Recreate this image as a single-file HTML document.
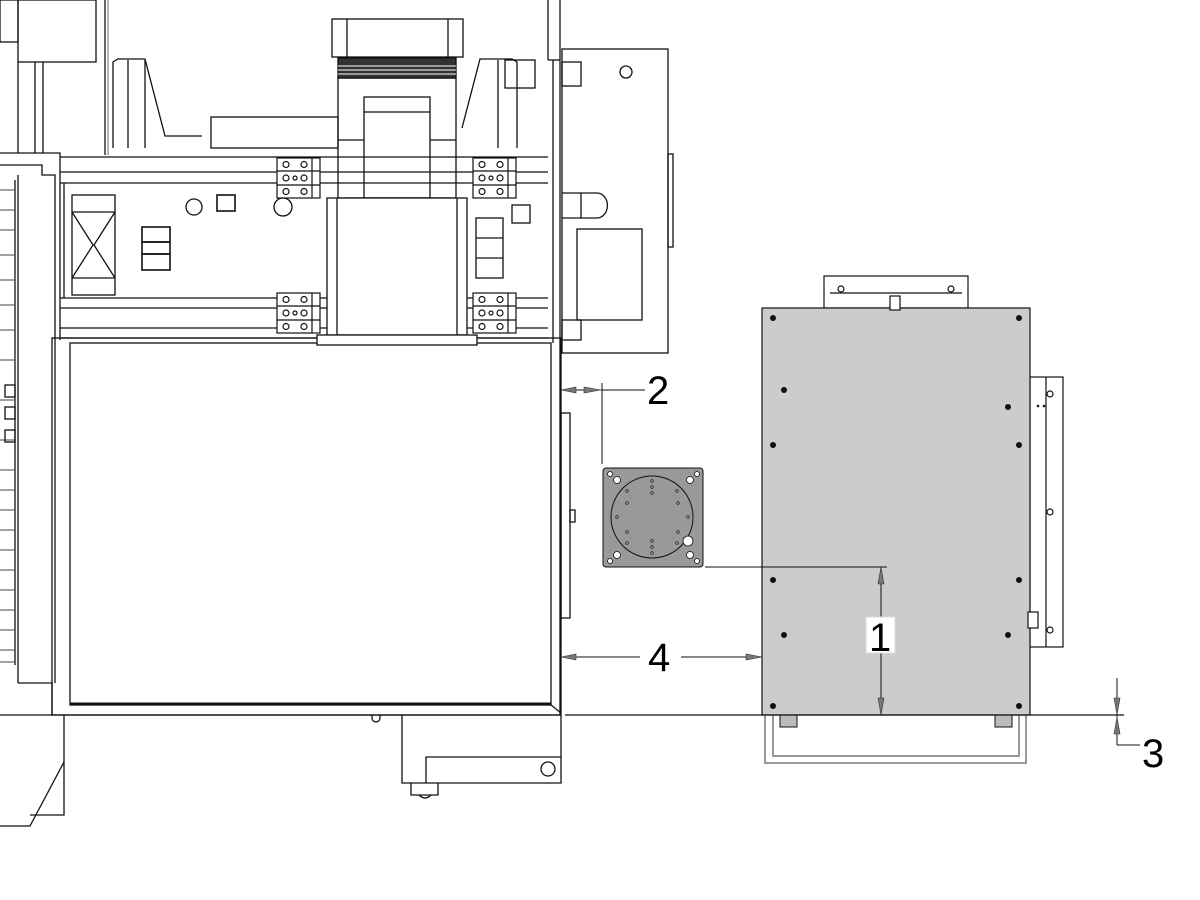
<!DOCTYPE html>
<html><head><meta charset="utf-8"><style>
html,body{margin:0;padding:0;background:#fff;}
svg{display:block;}
text{font-family:"Liberation Sans",sans-serif;}
</style></head><body>
<svg width="1200" height="900" viewBox="0 0 1200 900" xmlns="http://www.w3.org/2000/svg">
<defs>
<g id="brk" fill="none" stroke="#111" stroke-width="1.2">
  <rect x="0" y="0" width="43" height="40" fill="#fff"/>
  <line x1="0" y1="13" x2="43" y2="13"/><line x1="0" y1="27" x2="43" y2="27"/>
  <line x1="35" y1="0" x2="35" y2="40"/>
  <circle cx="9" cy="6.5" r="3"/><circle cx="27" cy="6.5" r="3"/>
  <circle cx="9" cy="20" r="3"/><circle cx="18" cy="20" r="2"/><circle cx="27" cy="20" r="3"/>
  <circle cx="9" cy="33.5" r="3"/><circle cx="27" cy="33.5" r="3"/>
</g>
</defs>
<g fill="none" stroke="#111" stroke-width="1.3">
<rect x="0" y="0" width="18" height="42"/>
<rect x="18" y="0" width="78" height="62"/>
<line x1="105" y1="0" x2="105" y2="155"/><line x1="108" y1="0" x2="108" y2="155" stroke="#888"/>
<line x1="18" y1="62" x2="18" y2="153"/><line x1="35" y1="62" x2="35" y2="153"/><line x1="43" y1="62" x2="43" y2="153"/>
<path d="M0 153 H60 V340"/>
<path d="M0 165 H42 V175 H55 V683"/>
<line x1="18" y1="175" x2="18" y2="683"/>
<line x1="15" y1="180" x2="15" y2="665"/>
<g stroke="#444" stroke-width="1">
<line x1="0" y1="190" x2="15" y2="190"/><line x1="0" y1="210" x2="15" y2="210"/><line x1="0" y1="230" x2="15" y2="230"/>
<line x1="0" y1="255" x2="15" y2="255"/><line x1="0" y1="280" x2="15" y2="280"/><line x1="0" y1="305" x2="15" y2="305"/>
<line x1="0" y1="330" x2="15" y2="330"/><line x1="0" y1="360" x2="15" y2="360"/><line x1="0" y1="400" x2="15" y2="400"/>
<line x1="0" y1="440" x2="15" y2="440"/><line x1="0" y1="470" x2="15" y2="470"/><line x1="0" y1="490" x2="15" y2="490"/>
<line x1="0" y1="510" x2="15" y2="510"/><line x1="0" y1="530" x2="15" y2="530"/><line x1="0" y1="550" x2="15" y2="550"/>
<line x1="0" y1="570" x2="15" y2="570"/><line x1="0" y1="590" x2="15" y2="590"/><line x1="0" y1="610" x2="15" y2="610"/>
<line x1="0" y1="630" x2="15" y2="630"/><line x1="0" y1="650" x2="15" y2="650"/><line x1="0" y1="662" x2="15" y2="662"/>
</g>
<rect x="5" y="385" width="10" height="12"/><rect x="5" y="407" width="10" height="12"/><rect x="5" y="430" width="10" height="12"/>
<path d="M18 683 H52 V715"/>
<path d="M0 715 H560"/>
<path d="M64 715 V815 H30"/>
<path d="M64 762 L30 826 H0"/>
<rect x="52" y="338" width="509" height="377"/>
<rect x="70" y="343" width="481" height="362"/>
<line x1="70" y1="704" x2="551" y2="704" stroke-width="3"/>
<line x1="551" y1="705" x2="561" y2="713"/>
<path d="M402 715 V783 H561 V715"/>
<path d="M426 783 V757 H561"/>
<circle cx="548" cy="769" r="7"/>
<path d="M411 783 V795 H438 V783"/><path d="M419 795 q6 6 12 0"/>
<path d="M372 715 v3 a4 4 0 0 0 8 0 v-3"/>
<line x1="548" y1="0" x2="548" y2="60"/><line x1="560" y1="0" x2="560" y2="715"/>
<line x1="553" y1="60" x2="553" y2="343"/>
<line x1="548" y1="60" x2="560" y2="60"/>
<rect x="561" y="413" width="9" height="205"/><rect x="570" y="510" width="5" height="12"/>
<rect x="562" y="49" width="106" height="304"/>
<circle cx="626" cy="72" r="6"/>
<rect x="577" y="229" width="65" height="91"/>
<rect x="668" y="154" width="5" height="93"/>
<path d="M562 193 H597 a10 12 0 0 1 0 25 H562"/><line x1="581" y1="193" x2="581" y2="218"/>
<rect x="562" y="62" width="19" height="24"/><rect x="562" y="320" width="19" height="20"/>
<line x1="60" y1="157" x2="548" y2="157"/><line x1="60" y1="172" x2="548" y2="172"/><line x1="60" y1="183" x2="548" y2="183"/>
<line x1="60" y1="298" x2="548" y2="298"/><line x1="60" y1="308" x2="548" y2="308"/><line x1="60" y1="328" x2="548" y2="328"/><line x1="60" y1="338" x2="548" y2="338"/>
<line x1="64" y1="183" x2="64" y2="298"/>
<rect x="72" y="195" width="43" height="100"/>
<path d="M72 212 L115 212 M72 278 L115 278 M72 212 L93 245 L72 278 M115 212 L94 245 L115 278"/>
<rect x="142" y="227" width="28" height="15" stroke-width="1.6"/><rect x="142" y="242" width="28" height="12" stroke-width="1.6"/><rect x="142" y="254" width="28" height="16" stroke-width="1.6"/>
<circle cx="194" cy="207" r="8"/><rect x="217" y="195" width="18" height="16" stroke-width="1.6"/><circle cx="283" cy="207" r="9"/>
<path d="M113 148 V62 L118 59 H145 L165 136 H202"/><line x1="128" y1="60" x2="128" y2="148"/><line x1="145" y1="60" x2="145" y2="148"/>
<rect x="211" y="117" width="127" height="31"/>
<path d="M517 148 V62 L512 59 H480 L462 128"/><line x1="498" y1="60" x2="498" y2="148"/>
<rect x="505" y="60" width="30" height="28"/>
<rect x="332" y="19" width="131" height="38" fill="#fff"/><line x1="347" y1="19" x2="347" y2="57"/><line x1="448" y1="19" x2="448" y2="57"/>
<rect x="338" y="58" width="118" height="20" fill="#333"/>
<g stroke="#fff" stroke-width="1"><line x1="338" y1="66" x2="456" y2="66"/><line x1="338" y1="70" x2="456" y2="70"/><line x1="338" y1="74" x2="456" y2="74"/></g>
<rect x="338" y="78" width="118" height="120"/>
<rect x="364" y="97" width="66" height="101"/><line x1="364" y1="112" x2="430" y2="112"/>
<line x1="338" y1="140" x2="364" y2="140"/><line x1="430" y1="140" x2="456" y2="140"/>
<rect x="327" y="198" width="140" height="137" fill="#fff"/>
<line x1="337" y1="198" x2="337" y2="335"/><line x1="457" y1="198" x2="457" y2="335"/>
<rect x="317" y="335" width="160" height="10" fill="#fff"/>
<rect x="476" y="218" width="27" height="60"/><line x1="476" y1="238" x2="503" y2="238"/><line x1="476" y1="258" x2="503" y2="258"/>
<rect x="512" y="205" width="18" height="18"/>
</g>
<use href="#brk" x="277" y="158"/><use href="#brk" x="277" y="293"/>
<use href="#brk" x="473" y="158"/><use href="#brk" x="473" y="293"/>
<g stroke="#111" stroke-width="1.2">
<rect x="824" y="276" width="144" height="32" fill="#fff"/>
<line x1="830" y1="293" x2="962" y2="293" fill="none"/>
<circle cx="841" cy="289" r="3" fill="#fff"/><circle cx="951" cy="289" r="3" fill="#fff"/>
<rect x="1030" y="377" width="33" height="270" fill="#fff"/>
<line x1="1046" y1="377" x2="1046" y2="647"/>
<circle cx="1050" cy="394" r="3" fill="#fff"/><circle cx="1050" cy="512" r="3" fill="#fff"/><circle cx="1050" cy="630" r="3" fill="#fff"/>
<rect x="762" y="308" width="268" height="407" fill="#cccccc"/>
<rect x="890" y="296" width="10" height="14" fill="#fff"/>
<rect x="1028" y="612" width="10" height="16" fill="#fff"/>
</g>
<path d="M765 715 V763 H1026 V715 M773 715 V756 H1019 V715" fill="none" stroke="#999" stroke-width="2"/>
<rect x="780" y="715" width="17" height="12" fill="#bbb" stroke="#111"/>
<rect x="995" y="715" width="17" height="12" fill="#bbb" stroke="#111"/>
<g fill="#111">
<circle cx="773" cy="318" r="3"/><circle cx="1019" cy="318" r="3"/>
<circle cx="784" cy="390" r="3"/><circle cx="1008" cy="407" r="3"/>
<circle cx="773" cy="445" r="3"/><circle cx="1019" cy="445" r="3"/>
<circle cx="773" cy="580" r="3"/><circle cx="1019" cy="580" r="3"/>
<circle cx="784" cy="635" r="3"/><circle cx="1008" cy="635" r="3"/>
<circle cx="773" cy="706" r="3"/><circle cx="1019" cy="706" r="3"/>
<circle cx="1038" cy="406" r="1.3"/><circle cx="1044" cy="406" r="1.3"/>
</g>
<rect x="603" y="468" width="100" height="99" rx="3" fill="#999" stroke="#111"/>
<circle cx="652" cy="517" r="41" fill="none" stroke="#111"/>
<g fill="#fff" stroke="#111" stroke-width="0.8">
<circle cx="610" cy="474" r="2.5"/><circle cx="697" cy="474" r="2.5"/><circle cx="610" cy="561" r="2.5"/><circle cx="697" cy="561" r="2.5"/>
<circle cx="617" cy="480" r="3.5"/><circle cx="690" cy="480" r="3.5"/><circle cx="617" cy="555" r="3.5"/><circle cx="690" cy="555" r="3.5"/>
<circle cx="688" cy="541" r="5"/>
<circle cx="652" cy="481" r="1.2"/><circle cx="652" cy="487" r="1.2"/><circle cx="652" cy="493" r="1.2"/>
<circle cx="652" cy="541" r="1.2"/><circle cx="652" cy="547" r="1.2"/><circle cx="652" cy="553" r="1.2"/>
<circle cx="617" cy="517" r="1.2"/><circle cx="688" cy="517" r="1.2"/>
<circle cx="627" cy="491" r="1.2"/><circle cx="677" cy="491" r="1.2"/><circle cx="627" cy="543" r="1.2"/><circle cx="677" cy="543" r="1.2"/>
<circle cx="627" cy="503" r="1.2"/><circle cx="678" cy="503" r="1.2"/><circle cx="627" cy="532" r="1.2"/><circle cx="678" cy="532" r="1.2"/>
</g>
<g stroke="#111" stroke-width="1" fill="none">
<line x1="565" y1="715" x2="1124" y2="715" stroke-width="1.3"/>
<line x1="602" y1="383" x2="602" y2="464"/>
<line x1="575" y1="390" x2="584" y2="390"/><line x1="601" y1="390" x2="645" y2="390"/>
<line x1="705" y1="567" x2="887" y2="567"/>
<line x1="881" y1="567" x2="881" y2="715"/>
<line x1="575" y1="657" x2="640" y2="657"/><line x1="681" y1="657" x2="748" y2="657"/>
<line x1="1117" y1="678" x2="1117" y2="745"/><line x1="1117" y1="745" x2="1140" y2="745"/>
</g>
<g fill="#777" stroke="#333" stroke-width="0.6">
<polygon points="561,390 576,387 576,393"/><polygon points="601,390 584,387 584,393"/>
<polygon points="881,567 878,584 884,584"/><polygon points="881,715 878,698 884,698"/>
<polygon points="561,657 576,654 576,660"/><polygon points="762,657 746,654 746,660"/>
<polygon points="1117,715 1114,698 1120,698"/><polygon points="1117,717 1114,734 1120,734"/>
</g>
<rect x="866" y="617" width="29" height="36" fill="#fff" stroke="#ddd"/>
<g font-size="40" fill="#000">
<text x="869" y="651">1</text>
<text x="647" y="404">2</text>
<text x="1142" y="767">3</text>
<text x="648" y="671">4</text>
</g>
</svg>
</body></html>
